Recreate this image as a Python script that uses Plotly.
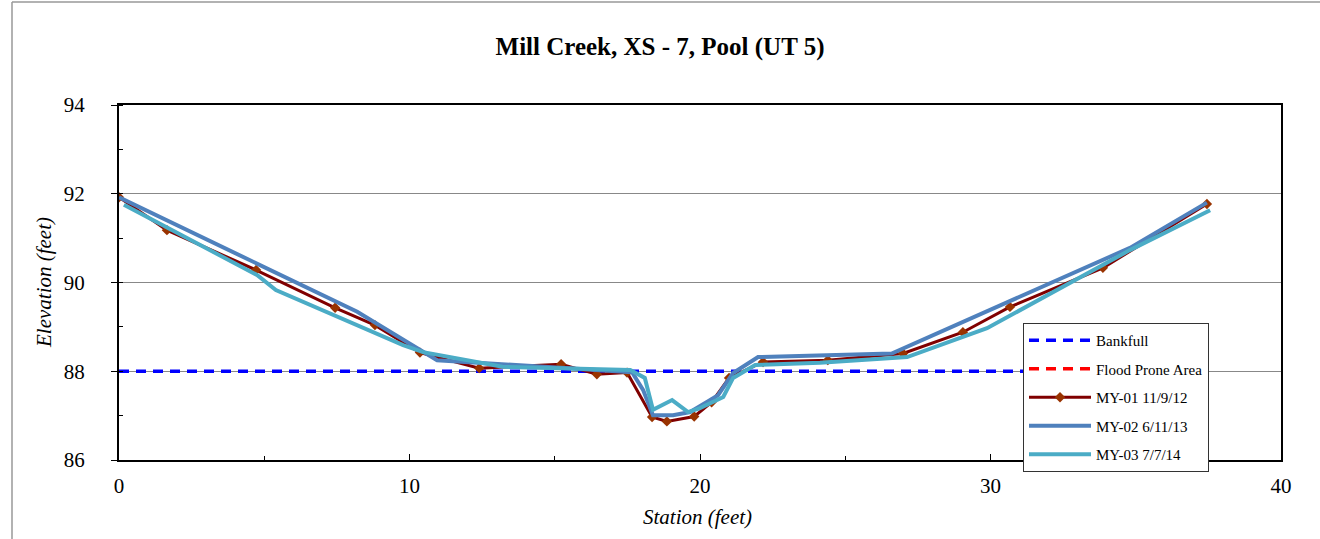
import plotly.graph_objects as go

# ---- data ----
bank_x = [0, 37.45]
bank_y = [88.0, 88.0]

fpa_x = [0, 37.45]
fpa_y = [None, None]

my01_x = [0, 1.65, 4.72, 7.44, 8.81, 10.36, 12.4, 15.22, 16.45, 17.49, 18.35, 18.86, 19.8,
          20.4, 21.0, 22.17, 24.4, 26.99, 29.05, 30.67, 33.87, 37.45]
my01_y = [91.92, 91.18, 90.28, 89.43, 89.04, 88.42, 88.07, 88.16, 87.93, 87.97, 86.97, 86.87, 86.98,
          87.3, 87.85, 88.21, 88.25, 88.4, 88.88, 89.45, 90.33, 91.77]

my02_x = [0, 8.2, 10.95, 17.66, 18.04, 18.38, 19.07, 19.66, 20.34, 20.62, 21.14, 22.0, 26.6, 34.8, 37.45]
my02_y = [91.92, 89.34, 88.25, 87.98, 87.58, 87.01, 87.01, 87.08, 87.35, 87.46, 87.96, 88.32, 88.4, 90.78, 91.8]

my03_x = [0.17, 4.75, 5.4, 9.78, 10.47, 11.98, 13.2, 17.6, 18.1, 18.38, 19.04, 19.59, 20.0, 20.8,
          21.14, 21.9, 24.13, 27.13, 29.88, 34.8, 37.56]
my03_y = [91.75, 90.17, 89.83, 88.59, 88.43, 88.25, 88.1, 88.03, 87.85, 87.13, 87.35, 87.08, 87.17, 87.42,
          87.85, 88.14, 88.19, 88.32, 88.97, 90.73, 91.63]

x_ticks = [0, 10, 20, 30, 40]
y_ticks = [86, 88, 90, 92, 94]

SERIF = "Liberation Serif, Times New Roman, DejaVu Serif, serif"

fig = go.Figure()
fig.add_trace(go.Scatter(x=bank_x, y=bank_y, mode="lines", name="Bankfull", legendgroup="a",
                         line=dict(color="#0000FF", width=3.5, dash="10px,7px")))
fig.add_trace(go.Scatter(x=fpa_x, y=fpa_y, mode="lines", name="Flood Prone Area", legendgroup="b",
                         line=dict(color="#FF0000", width=3.5, dash="10px,7px")))
fig.add_trace(go.Scatter(x=my01_x, y=my01_y, mode="lines+markers", name="MY-01 11/9/12", legendgroup="c",
                         line=dict(color="#800000", width=3),
                         marker=dict(symbol="diamond", size=8, color="#993300")))
fig.add_trace(go.Scatter(x=my02_x, y=my02_y, mode="lines", name="MY-02 6/11/13", legendgroup="d",
                         line=dict(color="#4F81BD", width=4)))
fig.add_trace(go.Scatter(x=my03_x, y=my03_y, mode="lines", name="MY-03 7/7/14", legendgroup="e",
                         line=dict(color="#4BACC6", width=4)))

fig.update_layout(
    width=1320, height=539,
    margin=dict(l=119, r=39, t=105, b=79),
    paper_bgcolor="white", plot_bgcolor="white",
    font=dict(family=SERIF, color="black"),
    title=dict(text="<b>Mill Creek, XS - 7, Pool (UT 5)</b>", x=0.5, xanchor="center",
               y=1 - 46 / 539, yanchor="middle", font=dict(size=25, family=SERIF)),
    showlegend=True,
    legend=dict(x=(1023 - 119) / 1162, y=(460 - 323) / 355, xanchor="left", yanchor="top",
                bgcolor="white", bordercolor="#333", borderwidth=1,
                font=dict(size=15, family=SERIF), itemwidth=62, tracegroupgap=6,
                traceorder="grouped"),
)

fig.update_xaxes(range=[0, 40], tickvals=x_ticks, ticktext=[str(v) for v in x_ticks],
                 showgrid=False, zeroline=False,
                 showline=True, linecolor="black", linewidth=2, mirror=True,
                 ticks="inside", ticklen=6, tickcolor="black", tickwidth=1,
                 minor=dict(dtick=5, ticks="inside", ticklen=4, tickcolor="black", showgrid=False),
                 tickfont=dict(size=21, family=SERIF), ticklabelstandoff=6)
fig.update_yaxes(range=[86, 94], tickvals=y_ticks, ticktext=[str(v) for v in y_ticks],
                 showgrid=True, gridcolor="#888888", gridwidth=1, zeroline=False,
                 showline=True, linecolor="black", linewidth=2, mirror=True,
                 ticks="outside", ticklen=6, tickcolor="black", tickwidth=1,
                 minor=dict(dtick=1, ticks="inside", ticklen=4, tickcolor="black", showgrid=False),
                 tickfont=dict(size=21, family=SERIF), ticklabelstandoff=22)

fig.add_annotation(text="<i>Station (feet)</i>", xref="paper", yref="paper",
                   x=(697 - 119) / 1162, y=(460 - 517) / 355, showarrow=False,
                   font=dict(size=21, family=SERIF), xanchor="center", yanchor="middle")
fig.add_annotation(text="<i>Elevation (feet)</i>", xref="paper", yref="paper",
                   x=(44 - 119) / 1162, y=(460 - 283) / 355, showarrow=False, textangle=-90,
                   font=dict(size=21, family=SERIF), xanchor="center", yanchor="middle")

# outer chart border (top and left visible)
fig.add_shape(type="line", xref="paper", yref="paper", x0=(12 - 119) / 1162, x1=(1320 - 119) / 1162,
              y0=(460 - 2) / 355, y1=(460 - 2) / 355, line=dict(color="#999999", width=1.5))
fig.add_shape(type="line", xref="paper", yref="paper", x0=(12 - 119) / 1162, x1=(12 - 119) / 1162,
              y0=(460 - 2) / 355, y1=(460 - 539) / 355, line=dict(color="#999999", width=1.5))

fig.write_html("out.html", config={"displayModeBar": False},
               post_script="document.body.style.margin='0';document.body.style.overflow='hidden';")
